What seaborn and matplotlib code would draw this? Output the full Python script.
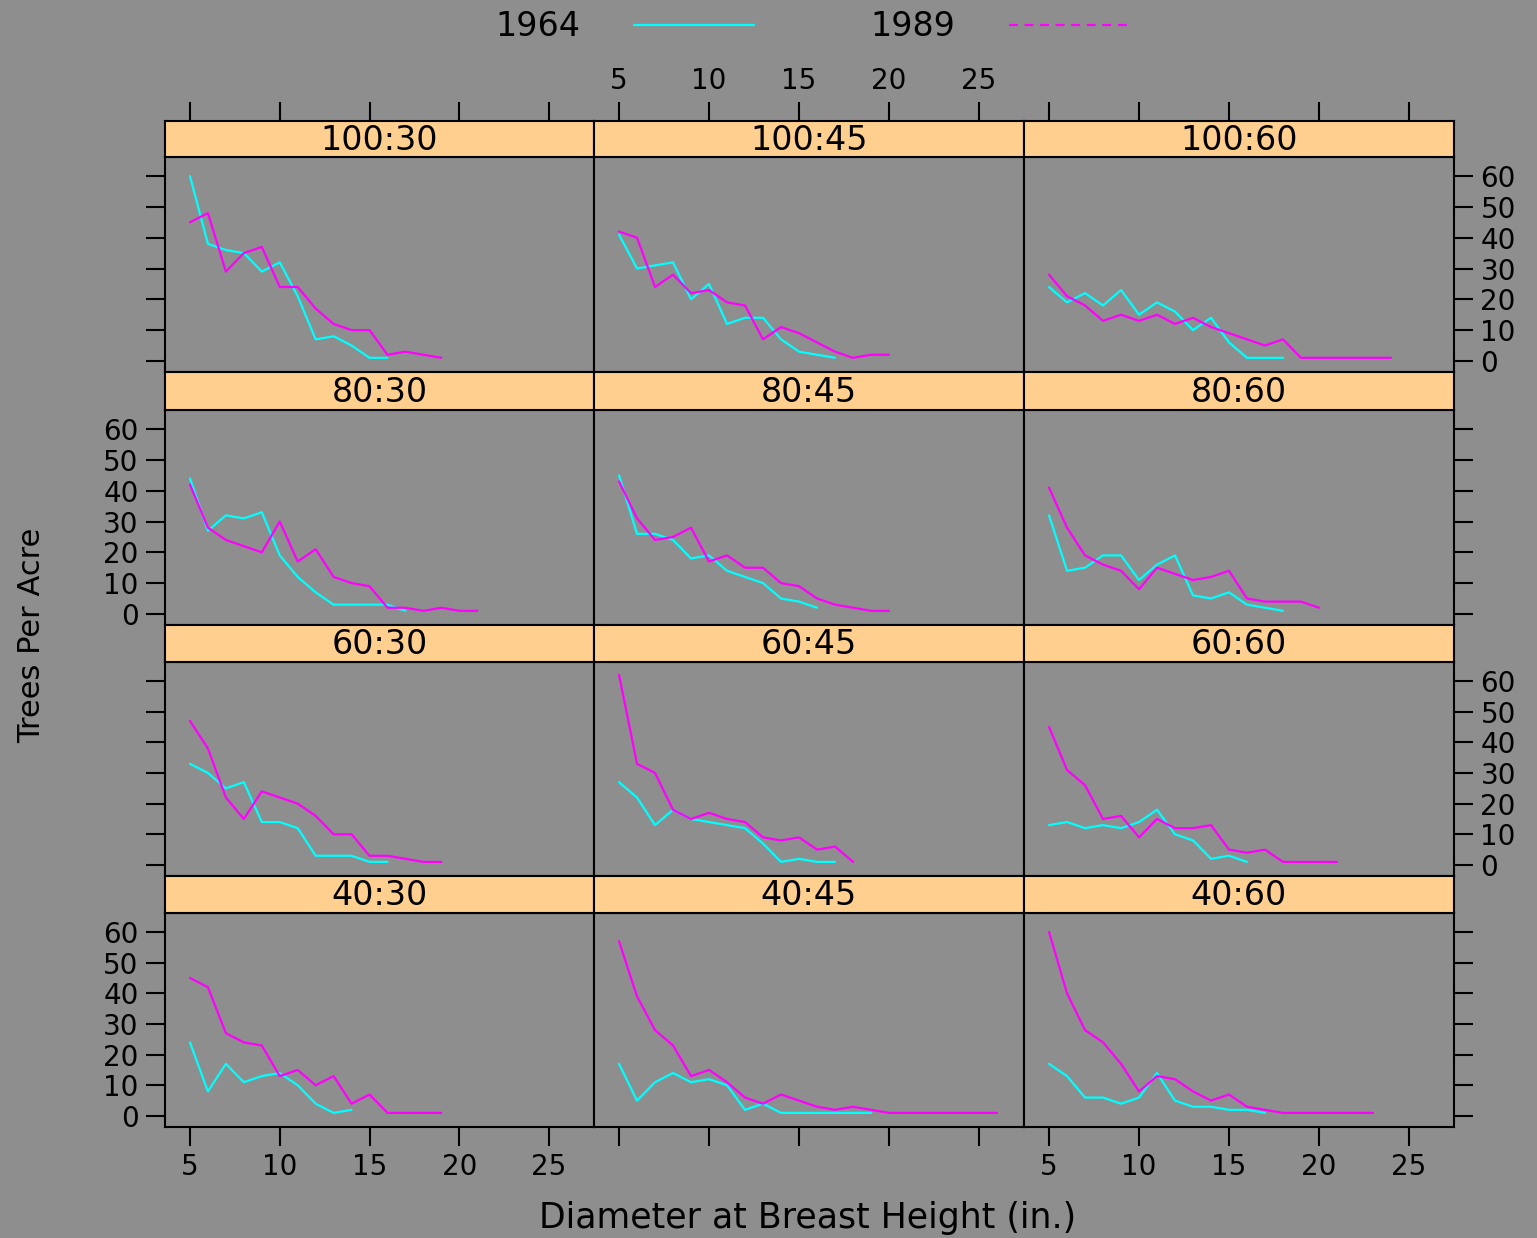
import matplotlib
matplotlib.use("Agg")
import matplotlib.pyplot as plt
from matplotlib.lines import Line2D
import seaborn as sns
import pandas as pd

# trees per acre by diameter class (in.), plots labelled site:spacing
dbh = list(range(5, 27))
panel_names = ["100:30", "100:45", "100:60",
               "80:30", "80:45", "80:60",
               "60:30", "60:45", "60:60",
               "40:30", "40:45", "40:60"]

tpa64_100_30 = [60, 38, 36, 35, 29, 32, 21, 7, 8, 5, 1, 1]
tpa89_100_30 = [45, 48, 29, 35, 37, 24, 24, 17, 12, 10, 10, 2, 3, 2, 1]
tpa64_100_45 = [41, 30, 31, 32, 20, 25, 12, 14, 14, 7, 3, 2, 1]
tpa89_100_45 = [42, 40, 24, 28, 22, 23, 19, 18, 7, 11, 9, 6, 3, 1, 2, 2]
tpa64_100_60 = [24, 19, 22, 18, 23, 15, 19, 16, 10, 14, 6, 1, 1, 1]
tpa89_100_60 = [28, 21, 18, 13, 15, 13, 15, 12, 14, 11, 9, 7, 5, 7, 1, 1, 1, 1, 1, 1]

tpa64_80_30 = [44, 27, 32, 31, 33, 19, 12, 7, 3, 3, 3, 3, 1]
tpa89_80_30 = [42, 28, 24, 22, 20, 30, 17, 21, 12, 10, 9, 2, 2, 1, 2, 1, 1]
tpa64_80_45 = [45, 26, 26, 24, 18, 19, 14, 12, 10, 5, 4, 2]
tpa89_80_45 = [43, 31, 24, 25, 28, 17, 19, 15, 15, 10, 9, 5, 3, 2, 1, 1]
tpa64_80_60 = [32, 14, 15, 19, 19, 11, 16, 19, 6, 5, 7, 3, 2, 1]
tpa89_80_60 = [41, 28, 19, 16, 14, 8, 15, 13, 11, 12, 14, 5, 4, 4, 4, 2]

tpa64_60_30 = [33, 30, 25, 27, 14, 14, 12, 3, 3, 3, 1, 1]
tpa89_60_30 = [47, 38, 22, 15, 24, 22, 20, 16, 10, 10, 3, 3, 2, 1, 1]
tpa64_60_45 = [27, 22, 13, 18, 15, 14, 13, 12, 7, 1, 2, 1, 1]
tpa89_60_45 = [62, 33, 30, 18, 15, 17, 15, 14, 9, 8, 9, 5, 6, 1]
tpa64_60_60 = [13, 14, 12, 13, 12, 14, 18, 10, 8, 2, 3, 1]
tpa89_60_60 = [45, 31, 26, 15, 16, 9, 15, 12, 12, 13, 5, 4, 5, 1, 1, 1, 1]

tpa64_40_30 = [24, 8, 17, 11, 13, 14, 10, 4, 1, 2]
tpa89_40_30 = [45, 42, 27, 24, 23, 13, 15, 10, 13, 4, 7, 1, 1, 1, 1]
tpa64_40_45 = [17, 5, 11, 14, 11, 12, 10, 2, 4, 1, 1, 1, 1, 1, 1]
tpa89_40_45 = [57, 39, 28, 23, 13, 15, 11, 6, 4, 7, 5, 3, 2, 3, 2, 1, 1, 1, 1, 1, 1, 1]
tpa64_40_60 = [17, 13, 6, 6, 4, 6, 14, 5, 3, 3, 2, 2, 1]
tpa89_40_60 = [60, 40, 28, 24, 17, 8, 13, 12, 8, 5, 7, 3, 2, 1, 1, 1, 1, 1, 1]

series = {
    "100:30": (tpa64_100_30, tpa89_100_30), "100:45": (tpa64_100_45, tpa89_100_45),
    "100:60": (tpa64_100_60, tpa89_100_60), "80:30": (tpa64_80_30, tpa89_80_30),
    "80:45": (tpa64_80_45, tpa89_80_45), "80:60": (tpa64_80_60, tpa89_80_60),
    "60:30": (tpa64_60_30, tpa89_60_30), "60:45": (tpa64_60_45, tpa89_60_45),
    "60:60": (tpa64_60_60, tpa89_60_60), "40:30": (tpa64_40_30, tpa89_40_30),
    "40:45": (tpa64_40_45, tpa89_40_45), "40:60": (tpa64_40_60, tpa89_40_60),
}

rows = []
for name, (v64, v89) in series.items():
    for year, vals in ((1964, v64), (1989, v89)):
        for d, v in zip(dbh, vals):
            rows.append({"panel": name, "year": year, "dbh": d, "tpa": v})
df = pd.DataFrame(rows)

BG = "#8e8e8e"
STRIP = "#ffcf8f"
pal = {1964: "#00ffff", 1989: "#ff00ff"}
x_ticks = [5, 10, 15, 20, 25]
y_ticks = [0, 10, 20, 30, 40, 50, 60]
xlim = (3.61, 27.5)
ylim = (-3.6, 66.2)

sns.set_style("ticks")
plt.rcParams["font.family"] = ["DejaVu Sans"]
plt.rcParams["text.color"] = "black"
plt.rcParams["axes.labelcolor"] = "black"
plt.rcParams["xtick.color"] = "black"
plt.rcParams["ytick.color"] = "black"

W, H = 1537, 1238
fig = plt.figure(figsize=(W / 100, H / 100), dpi=100)
fig.patch.set_facecolor(BG)

col_px = [(165, 594), (594, 1024), (1024, 1454)]
row_px = [(121, 157, 372), (372, 410, 625), (625, 662, 876), (876, 913, 1127)]
tick_kw = dict(direction="out", length=14, width=1.5, labelsize=20, colors="black", pad=5)

for i, name in enumerate(panel_names):
    r, c = divmod(i, 3)
    x0, x1 = col_px[c]
    s_top, p_top, p_bot = row_px[r]
    ax = fig.add_axes([x0 / W, 1 - p_bot / H, (x1 - x0) / W, (p_bot - p_top) / H])
    sax = fig.add_axes([x0 / W, 1 - p_top / H, (x1 - x0) / W, (p_top - s_top) / H])

    sub = df[df["panel"] == name]
    sns.lineplot(data=sub, x="dbh", y="tpa", hue="year", palette=pal, ax=ax,
                 legend=False, linewidth=1.6, estimator=None)
    ax.set_facecolor(BG)
    ax.set_xlim(*xlim)
    ax.set_ylim(*ylim)
    ax.set_xlabel("")
    ax.set_ylabel("")
    ax.set_xticks(x_ticks)
    ax.set_yticks(y_ticks)
    ax.tick_params(**tick_kw)
    ax.tick_params(axis="x", bottom=(r == 3), labelbottom=(r == 3 and c != 1), top=False)
    ax.tick_params(axis="y", left=(c == 0), labelleft=(c == 0 and r in (1, 3)),
                   right=(c == 2), labelright=(c == 2 and r in (0, 2)))
    for sp in ax.spines.values():
        sp.set_visible(True)
        sp.set_linewidth(1.5)
        sp.set_color("black")

    sax.set_facecolor(STRIP)
    sax.set_xlim(*xlim)
    sax.set_ylim(0, 1)
    sax.set_yticks([])
    if r == 0:
        sax.set_xticks(x_ticks)
        sax.tick_params(**tick_kw)
        sax.tick_params(axis="x", top=True, labeltop=(c == 1), bottom=False, labelbottom=False)
    else:
        sax.set_xticks([])
    for sp in sax.spines.values():
        sp.set_visible(True)
        sp.set_linewidth(1.5)
        sp.set_color("black")
    sax.text(0.5, 0.47, name, ha="center", va="center", fontsize=24, color="black",
             transform=sax.transAxes)

handles = [Line2D([], [], color=pal[1964], lw=1.6),
           Line2D([], [], color=pal[1989], lw=1.6, linestyle=(0, (4, 3)))]
fig.legend(handles, ["1964", "1989"], loc="center", bbox_to_anchor=(812 / W, 1 - 27 / H),
           ncol=2, frameon=False, markerfirst=False, fontsize=24, handlelength=3.6,
           handletextpad=1.6, columnspacing=3.5, labelcolor="black")

fig.text(808 / W, 1 - 1218 / H, "Diameter at Breast Height (in.)", ha="center", va="center",
         fontsize=25, color="black")
fig.text(32 / W, 1 - 635 / H, "Trees Per Acre", ha="center", va="center", rotation=90,
         fontsize=22, color="black")

fig.savefig("out.png", dpi=100, facecolor=BG)
